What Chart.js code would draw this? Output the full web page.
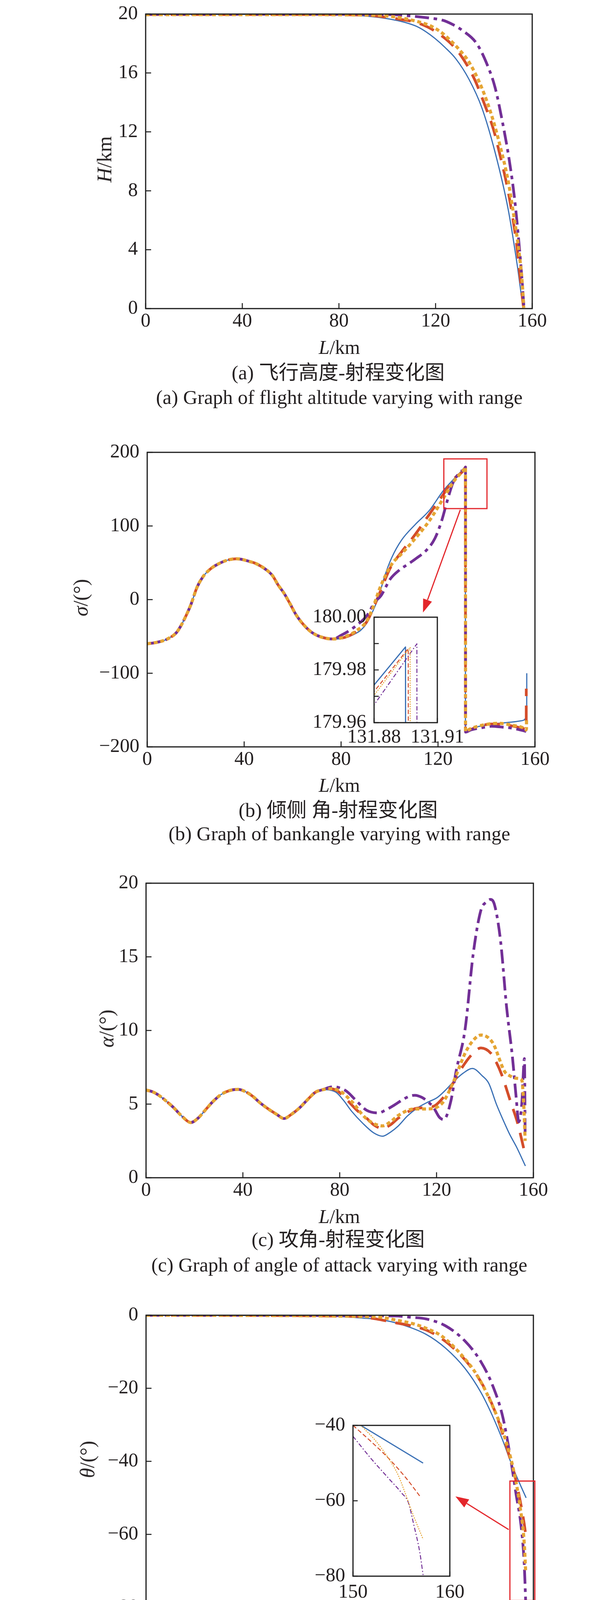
<!DOCTYPE html>
<html><head><meta charset="utf-8">
<script src="https://cdn.jsdelivr.net/npm/chart.js@4.4.0/dist/chart.umd.min.js"></script>
<style>
html,body{margin:0;padding:0;background:#fff;}
#page{position:relative;width:1575px;height:4531px;overflow:hidden;background:#fff;font-family:"Liberation Serif","Times New Roman",serif;color:#231f20;}
canvas{position:absolute;}
.t{position:absolute;transform:translate(-50%,-50%);white-space:nowrap;line-height:1;}
.yt{position:absolute;transform:translate(-50%,-50%) rotate(-90deg);white-space:nowrap;line-height:1;font-size:52px;}
.xt{font-size:50px;}
.cn{font-family:"Liberation Serif","Noto Sans CJK SC",serif;font-size:51px;}
.en{font-size:51px;}
.lg{position:absolute;white-space:nowrap;font-size:52px;line-height:60px;height:60px;}
.lg sub{font-size:0.62em;vertical-align:-0.32em;line-height:0;}
svg{position:absolute;overflow:visible;}
</style></head>
<body><div id="page">
<canvas id="ca" width="1575" height="884" style="left:0;top:-14px;width:1575px;height:884px"></canvas>
<canvas id="cb" width="1575" height="884" style="left:0;top:1108px;width:1575px;height:884px"></canvas>
<canvas id="cbi" width="442" height="390" style="left:758px;top:1530px;width:442px;height:390px"></canvas>
<canvas id="cc" width="1575" height="884" style="left:0;top:2211px;width:1575px;height:884px"></canvas>
<canvas id="cd" width="1575" height="878" style="left:0;top:3317px;width:1575px;height:878px"></canvas>
<canvas id="cdi" width="528" height="506" style="left:704px;top:3599px;width:528px;height:506px"></canvas>

<div class="yt" style="left:268px;top:408px"><i>H</i>/km</div>
<div class="t xt" style="left:869px;top:889px"><i>L</i>/km</div>
<div class="t cn" style="left:866px;top:954px">(a) 飞行高度-射程变化图</div>
<div class="t en" style="left:869px;top:1017px">(a) Graph of flight altitude varying with range</div>

<div class="yt" style="left:207px;top:1530px"><i>σ</i>/(°)</div>
<div class="t xt" style="left:869px;top:2010px"><i>L</i>/km</div>
<div class="t cn" style="left:866px;top:2074px">(b) 倾侧 角-射程变化图</div>
<div class="t en" style="left:869px;top:2134px">(b) Graph of bankangle varying with range</div>

<div class="yt" style="left:273px;top:2633px"><i>α</i>/(°)</div>
<div class="t xt" style="left:869px;top:3114px"><i>L</i>/km</div>
<div class="t cn" style="left:866px;top:3173px">(c) 攻角-射程变化图</div>
<div class="t en" style="left:869px;top:3238px">(c) Graph of angle of attack varying with range</div>

<div class="yt" style="left:224px;top:3736px"><i>θ</i>/(°)</div>
<div class="t xt" style="left:869px;top:4215px"><i>L</i>/km</div>
<div class="t cn" style="left:866px;top:4278px">(d) 航迹角-射程变化图</div>
<div class="t en" style="left:869px;top:4345px">(d) Graph of track angle varying with range</div>

<svg style="left:436px;top:4409px" width="180" height="20"><line x1="0" y1="10" x2="179" y2="10" stroke="#3a70b5" stroke-width="3.5"/></svg>
<div class="lg" style="left:632px;top:4386px">: <i>θ</i><sub><i>d</i></sub>=−50°;</div>
<svg style="left:856px;top:4409px" width="180" height="20"><line x1="0" y1="10" x2="179" y2="10" stroke="#d44d2a" stroke-width="8" stroke-dasharray="43 28"/></svg>
<div class="lg" style="left:1049px;top:4386px">: <i>θ</i><sub><i>d</i></sub>=−60°;</div>
<svg style="left:436px;top:4486px" width="180" height="20"><line x1="0" y1="10" x2="172" y2="10" stroke="#e5a534" stroke-width="9.5" stroke-dasharray="11 7"/></svg>
<div class="lg" style="left:632px;top:4463px">: <i>θ</i><sub><i>d</i></sub>=−70°;</div>
<svg style="left:856px;top:4486px" width="180" height="20"><line x1="0" y1="10" x2="180" y2="10" stroke="#722f96" stroke-width="8" stroke-dasharray="38 12 9 12"/></svg>
<div class="lg" style="left:1049px;top:4463px">: <i>θ</i><sub><i>d</i></sub>=−80°。</div>
</div>
<script>
// ---------------- DATA ----------------
// (a) flight altitude H (km) vs range L (km)
const A_L_blue = [0, 40, 80, 88, 95, 101.4, 107, 112.2, 116, 119.7, 124, 128.4, 133.8, 139.1, 144.6, 150, 153.7, 155.9, 156.3];
const A_H_blue = [19.98, 19.98, 19.96, 19.9, 19.8, 19.65, 19.45, 19.16, 18.8, 18.35, 17.72, 16.96, 15.58, 13.66, 10.63, 6.78, 3.06, 0.44, 0.05];
const A_L_red = [0, 60, 90, 100, 105, 111.6, 117, 121.9, 126, 130, 135.9, 140.2, 144, 146.7, 149.5, 151.6, 153.7, 155.3, 156.4];
const A_H_red = [19.97, 19.97, 19.93, 19.78, 19.65, 19.45, 19.1, 18.6, 18.05, 17.3, 15.65, 13.9, 12.15, 10.4, 8.4, 6.5, 4.15, 1.67, 0.05];
const A_L_orange = [0, 60, 95, 105, 113, 117.6, 122, 126.2, 130, 133.8, 139.1, 143.5, 146.7, 150, 152.1, 154.3, 155.9, 156.5];
const A_H_orange = [19.96, 19.96, 19.92, 19.76, 19.47, 19.22, 18.8, 18.2, 17.55, 16.75, 15.0, 12.96, 11.05, 8.7, 6.6, 4.15, 1.67, 0.05];
const A_L_purple = [0, 100, 112.2, 118, 123, 127, 131, 137, 141.4, 144.6, 147.8, 150.5, 152.7, 154.3, 155.6, 156.6];
const A_H_purple = [19.99, 19.97, 19.83, 19.72, 19.58, 19.3, 18.9, 18.0, 16.55, 15.03, 12.57, 10.08, 7.46, 4.84, 2.35, 0.05];

// (b) bank angle sigma (deg) vs range
const B_L_common = [0, 4, 8, 12, 14, 16, 18, 20.6, 23, 25.5, 28, 33, 37, 42, 45, 48.5, 51.6, 54, 56.5, 59, 61.3, 64.5, 67.9, 72, 76.8];
const B_S_common = [-60, -58, -54, -45, -35, -22, -7, 17, 31, 40, 46, 53.5, 55.5, 52, 48.7, 42, 33, 20, 8.4, -6, -19.9, -34, -44.5, -51, -53.5];
const B_L_blue = [80, 83, 86, 88, 90.6, 92.5, 94.6, 96.4, 98.1, 100.9, 104.9, 110.6, 116.4, 122.1, 126.6, 129.5, 131.3, 131.32, 133, 136, 139.3, 145, 150, 153.5, 155.5, 156.3, 156.6, 156.62];
const B_S_blue = [-53, -50.5, -46, -42, -32, -20, -4, 14, 33, 57, 80.6, 102, 121, 147.6, 164, 174, 179.99, -179, -177, -173, -170.7, -168, -166.5, -165, -163.5, -161, -158, -100];
const B_L_red = [80, 83, 86, 90.6, 93, 96.3, 100.3, 104.9, 110.6, 117.5, 122.1, 126.6, 130.9, 131.32, 131.34, 133, 137, 142.1, 146, 150.7, 155, 156.2, 156.4, 156.42];
const B_S_red = [-52.5, -49.5, -44, -30, -14, 12, 43, 64.5, 88.5, 121, 142.4, 164, 177, 179.99, -179, -177, -172, -169, -169.5, -171.7, -175, -176, -172, -121];
const B_L_orange = [80, 83, 86, 90.6, 93, 96.3, 100.9, 104.9, 110.6, 116.4, 122.1, 126.6, 131, 131.33, 131.35, 133, 136.4, 141, 145, 150.7, 155, 156.3, 156.5, 156.52];
const B_S_orange = [-52, -48.5, -43, -29, -12, 18, 48, 62, 83, 107, 137, 161, 178, 179.99, -179, -176, -172, -169, -168, -170.7, -174, -177, -175, -162];
const B_L_purple = [80, 83, 86, 90.6, 94, 96.4, 100.3, 104, 107.7, 111, 115.2, 118.7, 121.5, 123.8, 126.1, 129, 131.3, 131.34, 131.36, 133.5, 138, 142.1, 146, 150.7, 155.8, 156.4];
const B_S_purple = [-48.5, -43, -36, -22, -3, 5, 28, 40, 48.3, 56, 67, 83, 107, 134, 158, 173, 179.5, 179.99, -180, -177, -174, -172, -173, -174.7, -178.5, -179];
// (b) inset: zoom around the peak
const BI_L_blue = [131.879, 131.8949, 131.8950];
const BI_S_blue = [179.9733, 179.9887, 179.90];
const BI_L_red = [131.879, 131.8962, 131.8963];
const BI_S_red = [179.9708, 179.9881, 179.90];
const BI_L_orange = [131.879, 131.8971, 131.8972];
const BI_S_orange = [179.9693, 179.9885, 179.90];
const BI_L_purple = [131.879, 131.9003, 131.9004];
const BI_S_purple = [179.9656, 179.9899, 179.90];

// (c) angle of attack alpha (deg) vs range
const C_L_common = [0, 2.5, 4.9, 8, 11.4, 15, 18.5, 21.5, 24.4, 27.5, 30.9, 34.5, 38, 41, 43.9, 47, 50.5, 54, 57, 60, 63.5, 67, 70, 73];
const C_A_common = [5.95, 5.85, 5.64, 5.25, 4.76, 4.15, 3.75, 4.05, 4.58, 5.15, 5.64, 5.92, 6.0, 5.85, 5.55, 5.1, 4.67, 4.3, 4.02, 4.3, 4.76, 5.35, 5.81, 5.98];
const C_L_blue = [76, 78.5, 81.4, 85, 89.5, 94, 97.7, 101, 104.2, 108, 112.3, 116, 120.4, 124, 127, 131, 134.8, 139, 141.6, 144.7, 148.1, 150.2, 153, 156.7];
const C_A_blue = [5.95, 5.8, 5.29, 4.5, 3.7, 3.05, 2.82, 3.1, 3.52, 4.2, 4.76, 5.1, 5.46, 6.0, 6.52, 7.1, 7.42, 6.9, 6.4, 5.0, 3.7, 2.95, 2.1, 0.8];
const C_L_red = [76, 79, 83, 87, 91.1, 94, 97.7, 101, 104.2, 110.7, 114, 118.8, 122, 125.3, 130.2, 135.1, 138.3, 142.4, 144.5, 146.9, 150.5, 153.5, 156.7];
const C_A_red = [6.05, 5.9, 5.29, 4.6, 4.05, 3.6, 3.35, 3.6, 4.05, 4.67, 4.75, 4.85, 5.3, 5.99, 7.4, 8.46, 8.81, 8.46, 7.9, 7.0, 5.2, 3.7, 1.5];
const C_L_orange = [76, 80, 83, 86.3, 89, 92, 97.7, 101, 104.2, 110.7, 115.6, 122.1, 127, 131.8, 135, 138.3, 143.2, 148.1, 150.5, 153, 155.2, 156, 156.6];
const C_A_orange = [6.05, 5.9, 5.5, 4.93, 4.35, 3.88, 3.52, 3.8, 4.23, 4.67, 4.67, 5.02, 6.52, 8.46, 9.3, 9.69, 9.16, 7.22, 6.9, 6.75, 6.64, 5.0, 2.5];
const C_L_purple = [76, 77.5, 80, 83, 87, 91.1, 96, 99, 102.5, 106, 109, 111, 113.9, 116.5, 118.8, 121.2, 123, 125.9, 128.1, 131.8, 135.1, 138.3, 140.8, 142.3, 144, 146.5, 148.9, 151.4, 152.8, 154, 155.2, 156.3, 156.6];
const C_A_purple = [6.15, 6.18, 6.1, 5.85, 5.2, 4.58, 4.4, 4.6, 4.93, 5.3, 5.55, 5.6, 5.46, 5.15, 4.76, 4.1, 3.95, 5.2, 7.25, 10.1, 15.15, 18.15, 18.75, 18.9, 18.5, 16.0, 11.63, 8.1, 5.6, 3.8, 5.0, 8.09, 2.9];

// (d) track angle theta (deg) vs range
const D_L_blue = [0, 70, 81.4, 90, 96, 105.8, 115.6, 123.7, 131.8, 138.3, 143.2, 147.3, 151.4, 154.3, 157];
const D_T_blue = [0, -0.1, -0.4, -0.8, -1.1, -2.6, -5.2, -9, -14.6, -21.1, -27.7, -34.2, -41.5, -46, -50];
const D_L_red = [0, 86.3, 95, 102.5, 109, 115.6, 120, 125.3, 133.5, 140, 144.9, 148.9, 152.2, 154.6, 156.2, 156.8];
const D_T_red = [0, -0.3, -1, -2, -2.8, -4.0, -5.5, -8, -13.6, -20.2, -27.7, -36, -43.6, -51, -57.1, -60];
const D_L_orange = [0, 94.4, 103, 110.7, 116.5, 122.1, 130.2, 136.7, 143.2, 148.1, 152.2, 154.6, 156.2, 156.8];
const D_T_orange = [0, -0.4, -1.3, -2.4, -3.8, -5.7, -10.8, -16.4, -24.9, -33.3, -43.6, -52.9, -62.2, -70];
const D_L_purple = [0, 102.5, 110, 115.6, 123.7, 131.8, 138.3, 143.2, 147.3, 150.5, 152.9, 154.9, 156.2, 156.9];
const D_T_purple = [0, -0.2, -0.6, -1, -2.9, -7.1, -12.7, -19.3, -27.7, -38.9, -49.2, -57.6, -67.9, -80];
// (d) inset
const DI_L_blue = [150.81, 157.24];
const DI_T_blue = [-40, -50.0];
const DI_L_red = [150, 151.83, 153.66, 155.49, 157.03];
const DI_T_red = [-40, -44.2, -48.7, -54.0, -59.2];
const DI_L_orange = [150.81, 152.24, 153.66, 154.67, 155.28, 156.1, 157.24];
const DI_T_orange = [-40, -43.8, -48.7, -53.2, -57.2, -63, -70.2];
const DI_L_purple = [150, 151.83, 153.66, 155.08, 155.69, 156.3, 156.9, 157.24];
const DI_T_purple = [-42.9, -48.7, -54, -58.1, -60.3, -66.6, -73.7, -79.7];

// axis tick values
const X_TICKS = [0, 40, 80, 120, 160];
const A_Y_TICKS = [0, 4, 8, 12, 16, 20];
const B_Y_TICKS = [-200, -100, 0, 100, 200];
const C_Y_TICKS = [0, 5, 10, 15, 20];
const D_Y_TICKS = [-80, -60, -40, -20, 0];
const BI_X_TICKS = [131.88, 131.91];
const BI_Y_TICKS = [179.96, 179.97, 179.98, 179.99, 180.00];
const DI_X_TICKS = [150, 160];
const DI_Y_TICKS = [-80, -60, -40];

// ---------------- STYLE ----------------
const FONT_FAMILY = '"Liberation Serif","Times New Roman",serif';
const TXT = '#231f20';
const COL = {blue:'#3a70b5', red:'#d44d2a', orange:'#e5a534', purple:'#722f96'};
const MAIN = {
  blue:{borderColor:COL.blue, borderWidth:3, borderDash:[], order:4},
  red:{borderColor:COL.red, borderWidth:7, borderDash:[40,24], order:3},
  orange:{borderColor:COL.orange, borderWidth:8, borderDash:[10,7], order:1},
  purple:{borderColor:COL.purple, borderWidth:7, borderDash:[36,12,9,12], order:2}
};
const INSET = {
  blue:{borderColor:COL.blue, borderWidth:3, borderDash:[], order:4},
  red:{borderColor:COL.red, borderWidth:2.5, borderDash:[11,6], order:3},
  orange:{borderColor:COL.orange, borderWidth:2.5, borderDash:[3,3], order:1},
  purple:{borderColor:COL.purple, borderWidth:2.5, borderDash:[11,5,3,5], order:2}
};
const minus = s => String(s).replace('-', '\u2212');

const framePlugin = {
  id:'frame',
  beforeDraw(chart, args, o){
    if (o && o.fillWhite){
      const a = chart.chartArea, c = chart.ctx;
      c.save(); c.fillStyle = '#fff'; c.fillRect(a.left, a.top, a.right-a.left, a.bottom-a.top); c.restore();
    }
  },
  afterDraw(chart, args, o){
    const a = chart.chartArea, c = chart.ctx, len = o.len || 14;
    c.save();
    c.strokeStyle = '#1a1a1a'; c.lineWidth = 2.5;
    const xs = chart.scales.x, ys = chart.scales.y;
    c.beginPath();
    xs.ticks.forEach(t => { const p = xs.getPixelForValue(t.value); c.moveTo(p, a.bottom); c.lineTo(p, a.bottom - len); });
    ys.ticks.forEach(t => { const p = ys.getPixelForValue(t.value); c.moveTo(a.left, p); c.lineTo(a.left + len, p); });
    c.stroke();
    c.lineWidth = o.lw || 3;
    c.strokeRect(a.left, a.top, a.right-a.left, a.bottom-a.top);
    c.restore();
  }
};
const markPlugin = {
  id:'mark',
  afterDraw(chart, args, o){
    if (!o || !o.box) return;
    const xs = chart.scales.x, ys = chart.scales.y, c = chart.ctx;
    const X = v => xs.getPixelForValue(v), Y = v => ys.getPixelForValue(v);
    c.save();
    c.strokeStyle = '#e3262b'; c.fillStyle = '#e3262b'; c.lineWidth = 3;
    const x0 = X(o.box[0]), x1 = X(o.box[1]), y0 = Y(o.box[3]), y1 = Y(o.box[2]);
    c.strokeRect(x0, y0, x1-x0, y1-y0);
    const ax = X(o.arrow[0]), ay = Y(o.arrow[1]), bx = X(o.arrow[2]), by = Y(o.arrow[3]);
    const ang = Math.atan2(by-ay, bx-ax), hl = 34, hw = 12;
    const hx = bx - hl*Math.cos(ang), hy = by - hl*Math.sin(ang);
    c.beginPath(); c.moveTo(ax, ay); c.lineTo(hx, hy); c.stroke();
    c.beginPath(); c.moveTo(bx, by);
    c.lineTo(hx + hw*Math.sin(ang), hy - hw*Math.cos(ang));
    c.lineTo(hx - hw*Math.sin(ang), hy + hw*Math.cos(ang));
    c.closePath(); c.fill();
    c.restore();
  }
};
Chart.register(framePlugin, markPlugin);

function series(xs, ys, sty, smooth, clip){
  const d = {
    data: xs.map((x, i) => ({x: x, y: ys[i]})),
    pointRadius:0, fill:false, borderCapStyle:'butt', borderJoinStyle:'round',
    tension:0, cubicInterpolationMode: smooth ? 'monotone' : 'default'
  };
  if (clip !== undefined) d.clip = clip;
  return Object.assign(d, sty);
}
function axis(range, ticks, size, afterFit, fmt, pad){
  return {
    type:'linear', min:range[0], max:range[1],
    grid:{display:false, drawTicks:false}, border:{display:false},
    afterBuildTicks: s => { s.ticks = ticks.map(v => ({value:v})); },
    afterFit: afterFit,
    ticks:{autoSkip:false, maxRotation:0, padding:pad, color:TXT,
      font:{family:FONT_FAMILY, size:size}, callback: fmt}
  };
}
function make(id, datasets, g){
  return new Chart(document.getElementById(id), {
    type:'line',
    data:{datasets: datasets},
    options:{
      responsive:false, animation:false, devicePixelRatio:1, events:[],
      layout:{padding:{left:0, right:g.padR, top:40, bottom:0}},
      plugins:{legend:{display:false}, tooltip:{enabled:false},
        frame:{len:g.len, lw:3, fillWhite:!!g.fillWhite}, mark:g.mark || {}},
      scales:{
        x: axis(g.xr, g.xt, 50, s => { s.height = g.xh; }, g.xf || (v => minus(v)), g.xpad),
        y: axis(g.yr, g.yt, 50, s => { s.width = g.yw; }, g.yf || (v => minus(v)), 20)
      }
    }
  });
}

// (a)
make('ca', [
  series(A_L_blue, A_H_blue, MAIN.blue, true),
  series(A_L_red, A_H_red, MAIN.red, true),
  series(A_L_orange, A_H_orange, MAIN.orange, true),
  series(A_L_purple, A_H_purple, MAIN.purple, true)
], {xr:[0,160], xt:X_TICKS, yr:[0,20], yt:A_Y_TICKS, yw:373, padR:212, xh:80, xpad:3, len:14});

// (b)
make('cb', [
  series(B_L_common.concat(B_L_blue), B_S_common.concat(B_S_blue), MAIN.blue, true),
  series(B_L_common.concat(B_L_red), B_S_common.concat(B_S_red), MAIN.red, true),
  series(B_L_common.concat(B_L_orange), B_S_common.concat(B_S_orange), MAIN.orange, true),
  series(B_L_common.concat(B_L_purple), B_S_common.concat(B_S_purple), MAIN.purple, true)
], {xr:[0,160], xt:X_TICKS, yr:[-200,200], yt:B_Y_TICKS, yw:377, padR:205, xh:80, xpad:3, len:14,
    mark:{box:[122.4, 140.2, 123.6, 191.1], arrow:[129.2, 122, 113.8, -17.5]}});
make('cbi', [
  series(BI_L_blue, BI_S_blue, INSET.blue, false, 0),
  series(BI_L_red, BI_S_red, INSET.red, false, 0),
  series(BI_L_orange, BI_S_orange, INSET.orange, false, 0),
  series(BI_L_purple, BI_S_purple, INSET.purple, false, 0)
], {xr:[131.88,131.91], xt:BI_X_TICKS, yr:[179.96,180.00], yt:BI_Y_TICKS, yw:200, padR:80, xh:70, xpad:8, len:12,
    fillWhite:true,
    xf: v => Number(v).toFixed(2),
    yf: v => { const k = Math.round(v*100); return (k % 2 === 0) ? (k/100).toFixed(2) : ''; }});

// (c)
make('cc', [
  series(C_L_common.concat(C_L_blue), C_A_common.concat(C_A_blue), MAIN.blue, true),
  series(C_L_common.concat(C_L_red), C_A_common.concat(C_A_red), MAIN.red, true),
  series(C_L_common.concat(C_L_orange), C_A_common.concat(C_A_orange), MAIN.orange, true),
  series(C_L_common.concat(C_L_purple), C_A_common.concat(C_A_purple), MAIN.purple, true)
], {xr:[0,160], xt:X_TICKS, yr:[0,20], yt:C_Y_TICKS, yw:374, padR:209, xh:80, xpad:3, len:14});

// (d)
make('cd', [
  series(D_L_blue, D_T_blue, MAIN.blue, true),
  series(D_L_red, D_T_red, MAIN.red, true),
  series(D_L_orange, D_T_orange, MAIN.orange, true),
  series(D_L_purple, D_T_purple, MAIN.purple, true)
], {xr:[0,160], xt:X_TICKS, yr:[-80,0], yt:D_Y_TICKS, yw:374, padR:209, xh:80, xpad:3, len:14,
    mark:{box:[150.3, 160.6, -78.1, -45.4], arrow:[149.8, -58.7, 127.8, -49.6]}});
make('cdi', [
  series(DI_L_blue, DI_T_blue, INSET.blue, true, 0),
  series(DI_L_red, DI_T_red, INSET.red, true, 0),
  series(DI_L_orange, DI_T_orange, INSET.orange, true, 0),
  series(DI_L_purple, DI_T_purple, INSET.purple, true, 0)
], {xr:[150,160], xt:DI_X_TICKS, yr:[-80,-40], yt:DI_Y_TICKS, yw:200, padR:80, xh:70, xpad:12, len:12,
    fillWhite:true});
</script>
</body></html>
